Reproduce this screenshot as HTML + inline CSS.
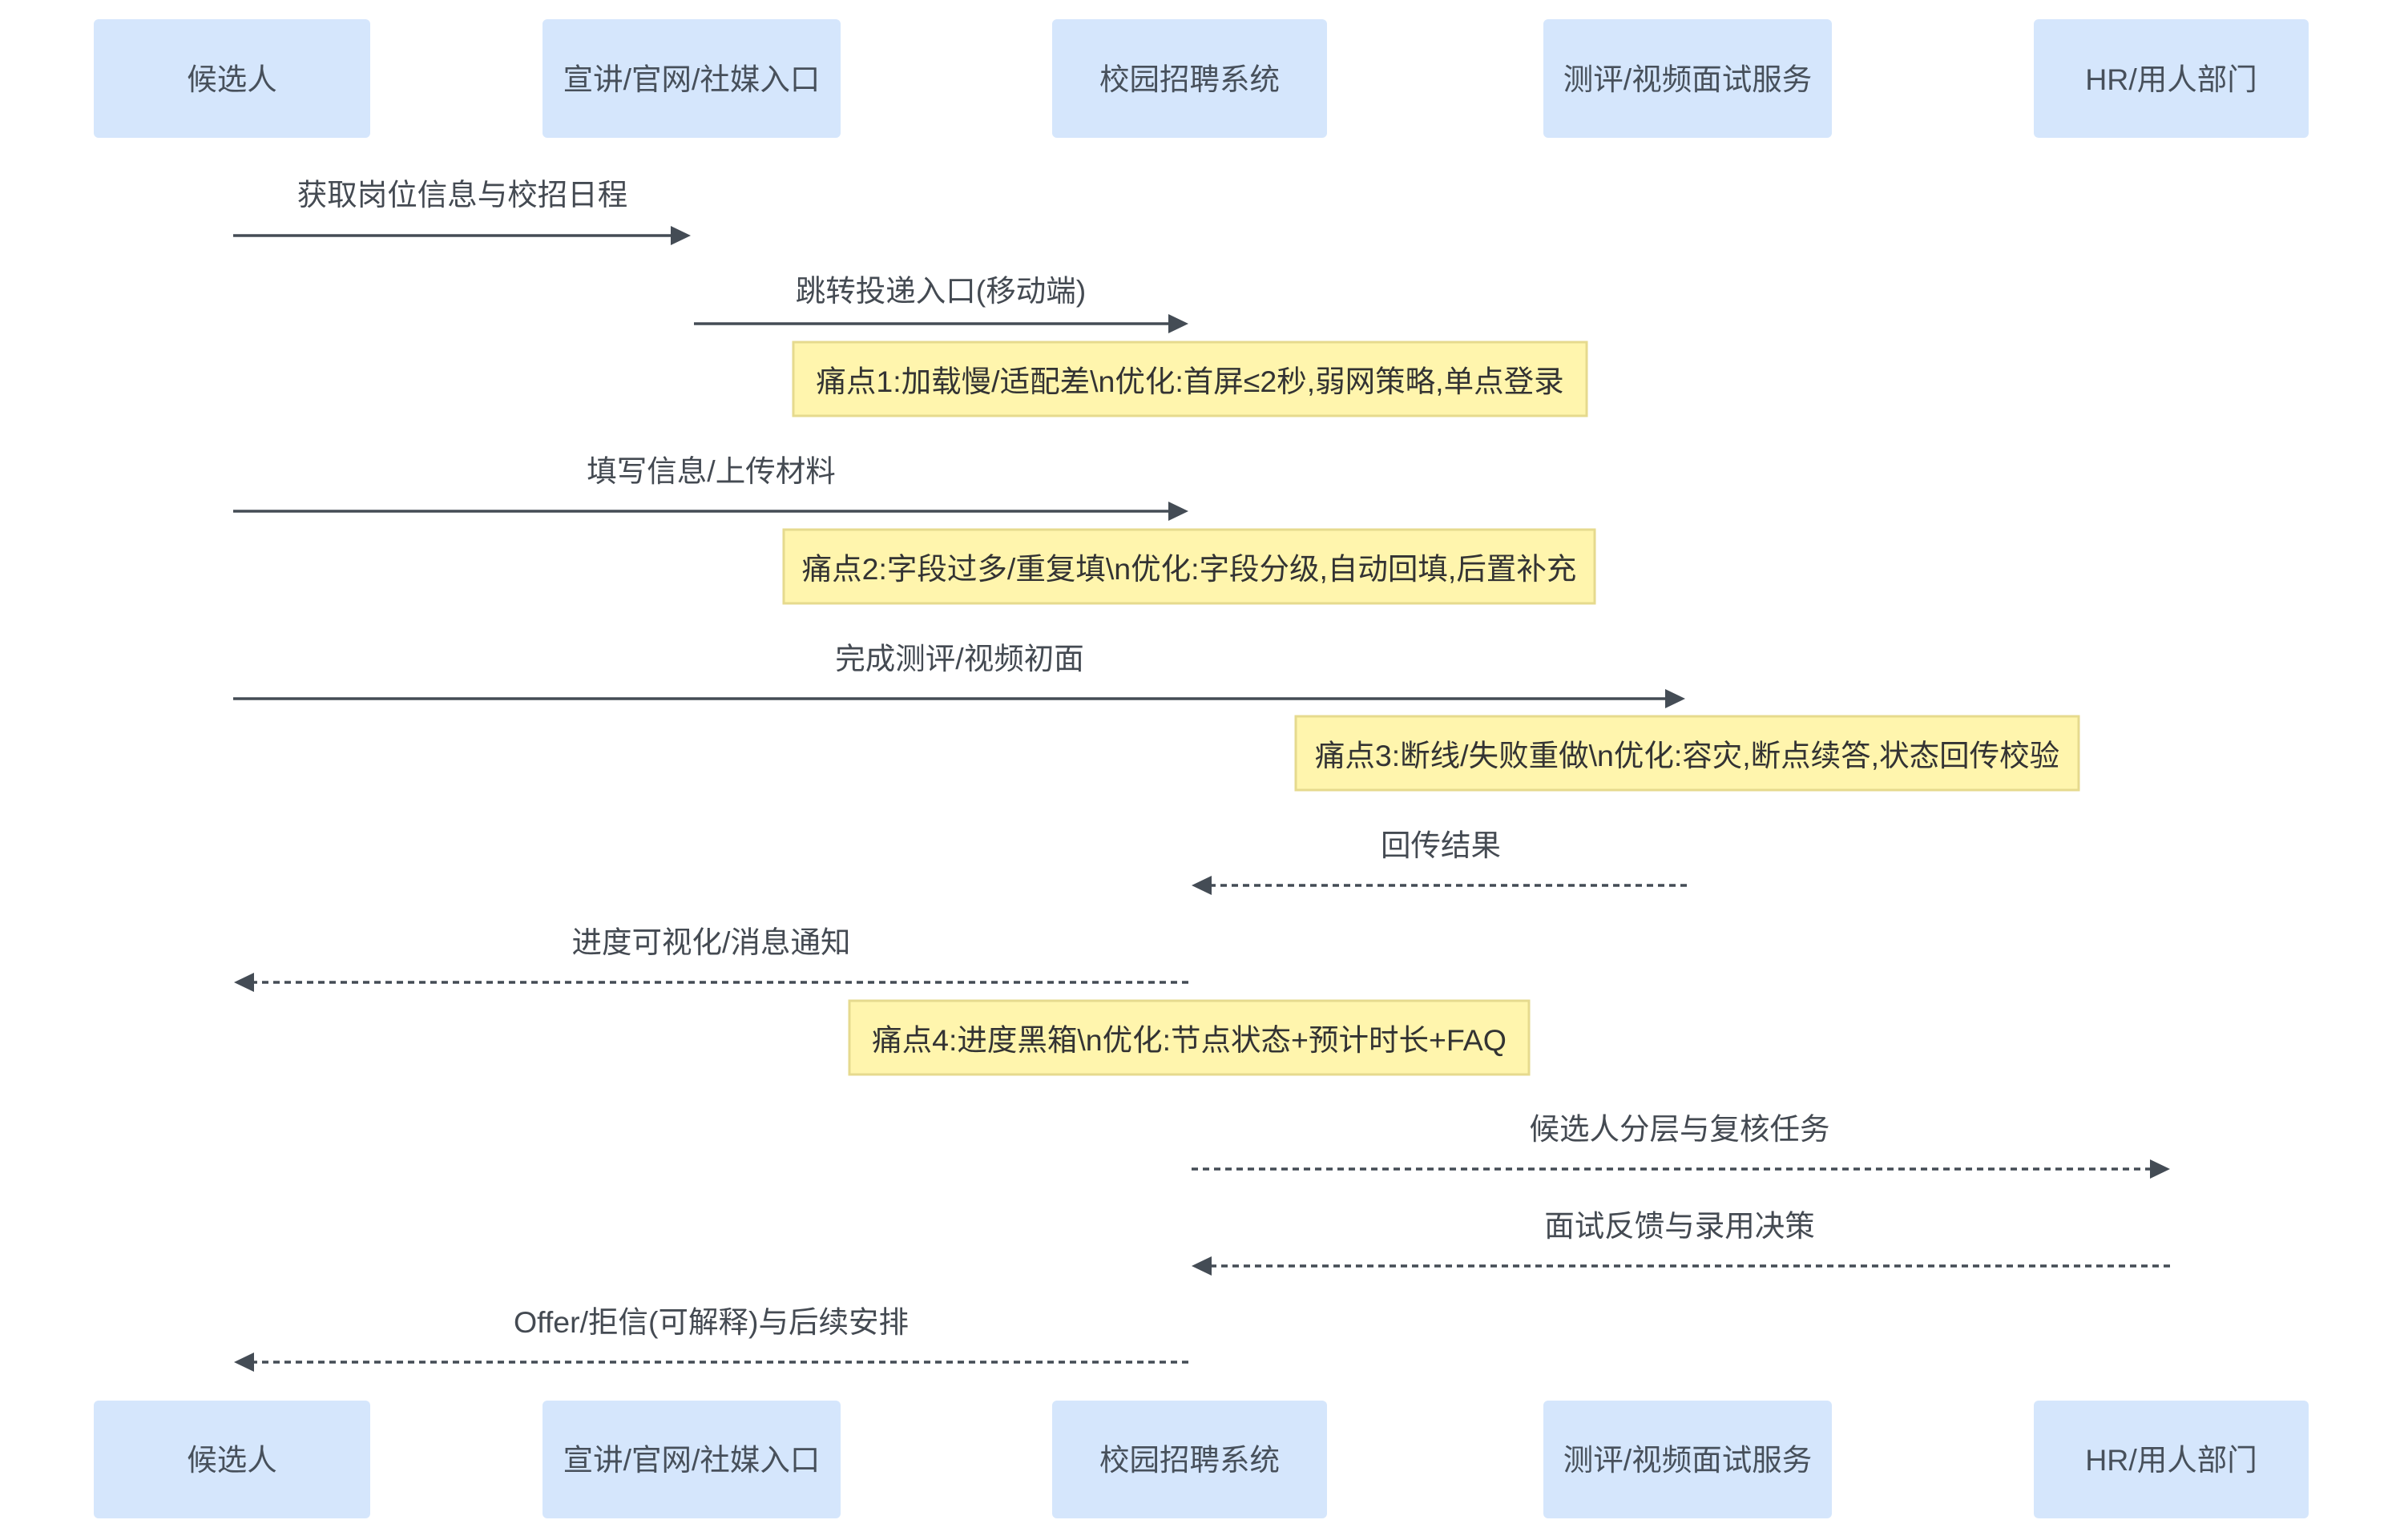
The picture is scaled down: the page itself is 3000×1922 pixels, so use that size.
<!DOCTYPE html>
<html>
<head>
<meta charset="utf-8">
<style>
  html, body { margin:0; padding:0; background:#ffffff; }
  svg { display:block; }
  text { font-family: "Liberation Sans", "Noto Sans CJK SC", sans-serif; }
  .actor { fill:#d5e6fc; }
  .atext { font-size:37.5px; fill:#47505b; text-anchor:middle; dominant-baseline:central; }
  .msg { font-size:37.5px; fill:#444a52; text-anchor:middle; dominant-baseline:central; }
  .note { fill:#fff5ad; stroke:#e6da8e; stroke-width:3; }
  .ntext { font-size:37.5px; fill:#333333; text-anchor:middle; dominant-baseline:central; }
  .solid { stroke:#444c55; stroke-width:3.6; fill:none; }
  .dash { stroke:#444c55; stroke-width:3.6; fill:none; stroke-dasharray:8 6; }
  .head { fill:#444c55; }
</style>
</head>
<body>
<svg width="3000" height="1922" viewBox="0 0 3000 1922" xmlns="http://www.w3.org/2000/svg">
  <rect x="0" y="0" width="3000" height="1922" fill="#ffffff"/>

  <!-- Top actors -->
  <rect class="actor" x="117" y="24" width="345" height="148" rx="6"/>
  <text class="atext" x="289.5" y="99">候选人</text>
  <rect class="actor" x="677" y="24" width="372" height="148" rx="6"/>
  <text class="atext" x="863" y="99">宣讲/官网/社媒入口</text>
  <rect class="actor" x="1313" y="24" width="343" height="148" rx="6"/>
  <text class="atext" x="1484.5" y="99">校园招聘系统</text>
  <rect class="actor" x="1926" y="24" width="360" height="148" rx="6"/>
  <text class="atext" x="2106" y="99">测评/视频面试服务</text>
  <rect class="actor" x="2538" y="24" width="343" height="148" rx="6"/>
  <text class="atext" x="2709.5" y="99">HR/用人部门</text>

  <!-- Bottom actors -->
  <rect class="actor" x="117" y="1748" width="345" height="147" rx="6"/>
  <text class="atext" x="289.5" y="1822">候选人</text>
  <rect class="actor" x="677" y="1748" width="372" height="147" rx="6"/>
  <text class="atext" x="863" y="1822">宣讲/官网/社媒入口</text>
  <rect class="actor" x="1313" y="1748" width="343" height="147" rx="6"/>
  <text class="atext" x="1484.5" y="1822">校园招聘系统</text>
  <rect class="actor" x="1926" y="1748" width="360" height="147" rx="6"/>
  <text class="atext" x="2106" y="1822">测评/视频面试服务</text>
  <rect class="actor" x="2538" y="1748" width="343" height="147" rx="6"/>
  <text class="atext" x="2709.5" y="1822">HR/用人部门</text>

  <!-- 1 -->
  <text class="msg" x="577" y="243">获取岗位信息与校招日程</text>
  <line class="solid" x1="291" y1="294" x2="840" y2="294"/>
  <polygon class="head" points="837,282 862,294 837,306"/>

  <!-- 2 -->
  <text class="msg" x="1174" y="363">跳转投递入口(移动端)</text>
  <line class="solid" x1="866" y1="404" x2="1462" y2="404"/>
  <polygon class="head" points="1458,392 1483,404 1458,416"/>

  <!-- Note 1 -->
  <rect class="note" x="990" y="427" width="990" height="92"/>
  <text class="ntext" x="1485" y="476">痛点1:加载慢/适配差\n优化:首屏≤2秒,弱网策略,单点登录</text>

  <!-- 3 -->
  <text class="msg" x="887.5" y="588">填写信息/上传材料</text>
  <line class="solid" x1="291" y1="638" x2="1462" y2="638"/>
  <polygon class="head" points="1458,626 1483,638 1458,650"/>

  <!-- Note 2 -->
  <rect class="note" x="978" y="661" width="1012" height="92"/>
  <text class="ntext" x="1484" y="710">痛点2:字段过多/重复填\n优化:字段分级,自动回填,后置补充</text>

  <!-- 4 -->
  <text class="msg" x="1197.5" y="822">完成测评/视频初面</text>
  <line class="solid" x1="291" y1="872" x2="2082" y2="872"/>
  <polygon class="head" points="2078,860 2103,872 2078,884"/>

  <!-- Note 3 -->
  <rect class="note" x="1617" y="894" width="977" height="92"/>
  <text class="ntext" x="2105.5" y="943">痛点3:断线/失败重做\n优化:容灾,断点续答,状态回传校验</text>

  <!-- 5 -->
  <text class="msg" x="1798" y="1055">回传结果</text>
  <line class="dash" x1="2105" y1="1105" x2="1508" y2="1105"/>
  <polygon class="head" points="1512,1093 1487,1105 1512,1117"/>

  <!-- 6 -->
  <text class="msg" x="887.5" y="1176">进度可视化/消息通知</text>
  <line class="dash" x1="1483" y1="1226" x2="313" y2="1226"/>
  <polygon class="head" points="317,1214 292,1226 317,1238"/>

  <!-- Note 4 -->
  <rect class="note" x="1060" y="1249" width="848" height="92"/>
  <text class="ntext" x="1484" y="1298">痛点4:进度黑箱\n优化:节点状态+预计时长+FAQ</text>

  <!-- 7 -->
  <text class="msg" x="2096" y="1409">候选人分层与复核任务</text>
  <line class="dash" x1="1487" y1="1459" x2="2686" y2="1459"/>
  <polygon class="head" points="2683,1447 2708,1459 2683,1471"/>

  <!-- 8 -->
  <text class="msg" x="2096" y="1530">面试反馈与录用决策</text>
  <line class="dash" x1="2708" y1="1580" x2="1508" y2="1580"/>
  <polygon class="head" points="1512,1568 1487,1580 1512,1592"/>

  <!-- 9 -->
  <text class="msg" x="887.5" y="1650">Offer/拒信(可解释)与后续安排</text>
  <line class="dash" x1="1483" y1="1700" x2="313" y2="1700"/>
  <polygon class="head" points="317,1688 292,1700 317,1712"/>
</svg>
</body>
</html>
